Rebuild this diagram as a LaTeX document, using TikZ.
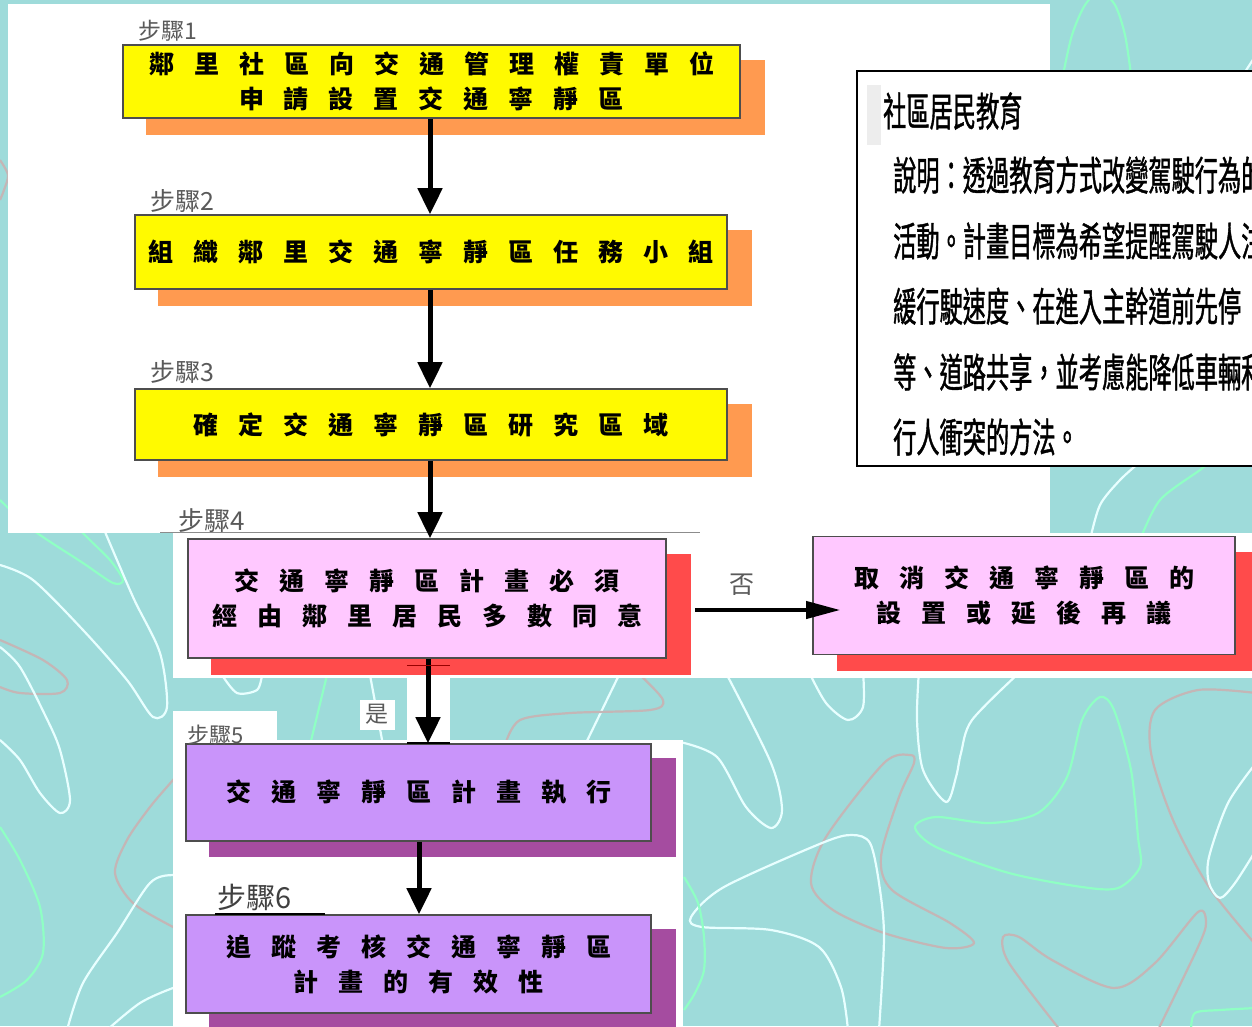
\documentclass[tikz,border=0pt]{standalone}
\usepackage{fontspec}
\newfontfamily\cjk{Noto Sans CJK TC}
\newfontfamily\cjkn[FakeStretch=0.58,FakeBold=1]{Noto Sans CJK TC}
\usetikzlibrary{arrows.meta}
\pgfdeclarelayer{bg}
\pgfdeclarelayer{shad}
\pgfsetlayers{bg,shad,main}
\definecolor{tealbg}{HTML}{9EDBDA}
\definecolor{cwhite}{HTML}{E8FFFF}
\definecolor{cgreen}{HTML}{8FFFC4}
\definecolor{cgrey}{HTML}{C4B6B6}
\definecolor{yel}{HTML}{FFFA00}
\definecolor{orangeS}{HTML}{FF9A50}
\definecolor{pinkF}{HTML}{FFC8FF}
\definecolor{redS}{HTML}{FF4B4B}
\definecolor{lavF}{HTML}{C994FA}
\definecolor{purS}{HTML}{A54CA0}
\definecolor{bordc}{HTML}{4D4D4D}
\definecolor{lblc}{HTML}{5A5A5A}
\newlength\chsp
\setlength\chsp{20pt}
\makeatletter
\newcommand\spc[1]{\def\spc@f{1}\@tfor\spc@c:=#1\do{\ifx\spc@f\@empty\hspace{\chsp}\fi\spc@c\def\spc@f{}}}
\makeatother
\newcommand\boxfont{\cjk\bfseries\fontsize{25}{35}\selectfont}
\tikzset{
  cw/.style={draw=cwhite, line width=2.2pt},
  cg/.style={draw=cgreen, line width=2.2pt},
  cr/.style={draw=cgrey, line width=2.2pt},
  fbox/.style={draw=bordc, line width=1.6pt, inner sep=0pt, align=center, font=\boxfont},
  ybox/.style={fbox, fill=yel},
  pbox/.style={fbox, fill=pinkF},
  vbox/.style={fbox, fill=lavF},
  steplbl/.style={anchor=west, inner sep=0pt, text=lblc},
  ptext/.style={anchor=west, inner sep=0pt, font=\cjkn\fontsize{40}{40}\selectfont},
  arr/.style={line width=5pt, -{Triangle[width=24pt,length=26pt]}},
  harr/.style={line width=4pt, -{Triangle[width=17pt,length=34pt]}}
}
\begin{document}
\begin{tikzpicture}[x=1pt,y=-1pt]
\useasboundingbox (0,0) rectangle (1252,1026);
\begin{pgfonlayer}{bg}
\fill[tealbg] (0,0) rectangle (1252,1026);
% left curves
\draw[cg] plot[smooth] coordinates {(0,500) (33,530) (83,563) (113,583) (123,580) (110,560) (83,533) (60,505)};
\draw[cw] plot[smooth] coordinates {(100,520) (133,597) (160,653) (167,707) (153,717) (127,680) (83,630) (33,580) (0,565)};
\draw[cr] plot[smooth] coordinates {(0,640) (43,660) (67,680) (60,693) (20,693) (0,687)};
\draw[cw] plot[smooth] coordinates {(0,647) (20,667) (45,715) (60,750) (70,800) (60,813) (40,793) (20,760) (0,740)};
\draw[cg] plot[smooth] coordinates {(0,827) (20,860) (40,907) (43,953) (27,980) (0,997)};
\draw[cr] plot[smooth] coordinates {(190,760) (173,780) (150,807) (127,840) (115,873) (133,903) (173,927) (200,940)};
\draw[cw] plot[smooth] coordinates {(67,1030) (83,983) (117,933) (150,883) (173,875) (190,880)};
\draw[cw] plot[smooth] coordinates {(107,1030) (140,1003) (173,988) (190,985)};
% middle strip curves
\draw[cg] (327,675) -- (310,745);
\draw[cw] (370,675) -- (383,745);
\draw[cw] plot[smooth] coordinates {(222,675) (237,693) (257,690) (262,675)};
\draw[cw] (619,675) -- (585,745);
\draw[cr] plot[smooth] coordinates {(640,675) (663,700) (650,710) (570,713) (520,720) (505,745)};
% right bottom curves
\draw[cr] plot[smooth cycle] coordinates {(910,755) (884,763) (826,837) (811,883) (833,910) (884,933) (946,948) (974,943) (950,923) (892,890) (881,857) (899,797) (914,763)};
\draw[cg] plot[smooth cycle] coordinates {(1100,697) (1082,720) (1067,777) (1038,813) (990,823) (936,817) (915,827) (936,847) (1009,873) (1082,887) (1118,888) (1140,867) (1138,837) (1131,770) (1114,710)};
\draw[cw] plot[smooth] coordinates {(680,742) (717,757) (746,807) (771,828) (782,810) (771,763) (727,675)};
\draw[cw] plot[smooth] coordinates {(808,670) (826,703) (848,720) (863,707) (863,670)};
\draw[cw] plot[smooth] coordinates {(919,670) (917,720) (923,770) (946,802) (956,777) (961,753) (972,720) (1020,672)};
\draw[cw] plot[smooth] coordinates {(848,1030) (841,987) (819,947) (771,930) (702,927) (691,917) (724,887) (822,843) (852,835) (870,843) (879,883) (884,937) (879,1030)};
\draw[cr] plot[smooth] coordinates {(1060,1030) (1009,963) (1003,937) (1019,937) (1052,960) (1114,988) (1155,963) (1198,912) (1206,923) (1198,947) (1158,1030)};
\draw[cr] plot[smooth] coordinates {(1256,693) (1198,690) (1155,710) (1151,753) (1173,820) (1209,887) (1256,945)};
\draw[cw] plot[smooth] coordinates {(1256,763) (1228,803) (1209,857) (1209,883) (1220,898) (1235,883) (1256,850)};
\draw[cg] plot[smooth] coordinates {(1191,1030) (1195,1013) (1220,1010) (1256,1008)};
\draw[cg] plot[smooth] coordinates {(684,877) (698,903) (704,937) (704,970) (695,993) (684,1010)};
% top right curves
\draw[cg] plot[smooth] coordinates {(1063,75) (1072,35) (1085,5) (1100,-8) (1115,5) (1125,35) (1131,75)};
\draw[cw] (1256,55) -- (1243,75);
\draw[cw] plot[smooth] coordinates {(1090,540) (1100,505) (1120,480) (1140,462)};
\draw[cg] plot[smooth] coordinates {(1140,540) (1160,500) (1200,470) (1210,462)};
\draw[cr] plot[smooth] coordinates {(0,160) (8,175) (4,190) (0,200)};
% white patches
\fill[white] (8,4) rectangle (1050,533);
\fill[white] (173,533) rectangle (1252,678);
\fill[white] (407,678) rectangle (450,740);
\fill[white] (360,700) rectangle (395,730);
\fill[white] (173,711) rectangle (277,745);
\fill[white] (173,740) rectangle (683,1026);
% info panel
\filldraw[fill=white, draw=black, line width=2.5pt] (857,71) rectangle (1265,466);
\fill[black!7] (867,85) rectangle (881,145);
\end{pgfonlayer}

% text panel
\begin{scope}
\clip (858,72) rectangle (1252,465);
\node[ptext] (ph) at (883,111) {社區居民教育};
\node[ptext] (p1) at (893,175) {說明：透過教育方式改變駕駛行為的};
\node[ptext] (p2) at (893,241) {活動。計畫目標為希望提醒駕駛人注};
\node[ptext] (p3) at (893,306) {緩行駛速度、在進入主幹道前先停};
\node[ptext] (p4) at (893,372) {等、道路共享，並考慮能降低車輛和};
\node[ptext] (p5) at (893,437) {行人衝突的方法。};
\end{scope}

% boxes
\node[ybox, minimum width=617pt, minimum height=73pt] (b1) at (431.5,81.5) {\spc{鄰里社區向交通管理權責單位}\\\spc{申請設置交通寧靜區}};
\node[ybox, minimum width=592pt, minimum height=74pt] (b2) at (431,252) {\spc{組織鄰里交通寧靜區任務小組}};
\node[ybox, minimum width=592pt, minimum height=71pt] (b3) at (431,424.5) {\spc{確定交通寧靜區研究區域}};
\node[pbox, minimum width=478pt, minimum height=119pt] (b4) at (427,598.5) {\spc{交通寧靜區計畫必須}\\\spc{經由鄰里居民多數同意}};
\node[pbox, minimum width=422pt, minimum height=118pt] (bc) at (1024,595.5) {\spc{取消交通寧靜區的}\\\spc{設置或延後再議}};
\node[vbox, minimum width=465pt, minimum height=97pt] (b5) at (418.5,792.5) {\spc{交通寧靜區計畫執行}};
\node[vbox, minimum width=465pt, minimum height=98pt] (b6) at (418.5,964) {\spc{追蹤考核交通寧靜區}\\\spc{計畫的有效性}};

\begin{pgfonlayer}{shad}
\fill[orangeS] ([shift={(24,16)}]b1.south west) rectangle ([shift={(24,16)}]b1.north east);
\fill[orangeS] ([shift={(24,16)}]b2.south west) rectangle ([shift={(24,16)}]b2.north east);
\fill[orangeS] ([shift={(24,16)}]b3.south west) rectangle ([shift={(24,16)}]b3.north east);
\fill[redS] ([shift={(24,16)}]b4.south west) rectangle ([shift={(24,16)}]b4.north east);
\fill[redS] ([shift={(25,16)}]bc.south west) rectangle ([shift={(25,16)}]bc.north east);
\fill[purS] ([shift={(24,15)}]b5.south west) rectangle ([shift={(24,15)}]b5.north east);
\fill[purS] ([shift={(24,15)}]b6.south west) rectangle ([shift={(24,15)}]b6.north east);
\end{pgfonlayer}

% step labels
\node[steplbl, font=\cjk\fontsize{23}{23}\selectfont] (s1) at (138,31) {步驟1};
\node[steplbl, font=\cjk\fontsize{25}{25}\selectfont] (s2) at (150,201) {步驟2};
\node[steplbl, font=\cjk\fontsize{25}{25}\selectfont] (s3) at (150,372) {步驟3};
\node[steplbl, font=\cjk\fontsize{26}{26}\selectfont] (s4) at (178,521) {步驟4};
\node[steplbl, font=\cjk\fontsize{22}{22}\selectfont] (s5) at (187,735) {步驟5};
\node[steplbl, font=\cjk\fontsize{29}{29}\selectfont, text=black!75] (s6) at (217,897) {步驟6};
\draw[black!45, line width=1pt] (160,532) -- (700,532);
\draw[black, line width=2pt] (s6.south west) ++(-2,3) -- ++(110,0);

% labels on arrows
\node[inner sep=0pt, text=lblc, font=\cjk\fontsize{23}{23}\selectfont] (yes) at (377,714) {是};
\node[inner sep=0pt, text=lblc, font=\cjk\fontsize{25}{25}\selectfont] (no) at (742,585) {否};

% arrows
\draw[arr] (b1.south -| 430,0) -- (b2.north -| 430,0);
\draw[arr] (b2.south -| 430,0) -- (b3.north -| 430,0);
\draw[arr] (b3.south -| 430,0) -- (b4.north -| 430,0);
\draw[arr] (b4.south -| 428,0) -- (b5.north -| 428,0);
\draw[arr] (b5.south -| 419,0) -- (b6.north -| 419,0);
\draw[harr] ([shift={(28,11.5)}]b4.east) -- ([shift={(28,11.5)}]b4.east -| bc.west);
\draw[black, line width=2pt] ([xshift=-21]b5.north -| 428,0) -- ([xshift=22]b5.north -| 428,0);
\draw[red!60!black, line width=1pt] (407,665) -- (450,665);
\end{tikzpicture}
\end{document}
